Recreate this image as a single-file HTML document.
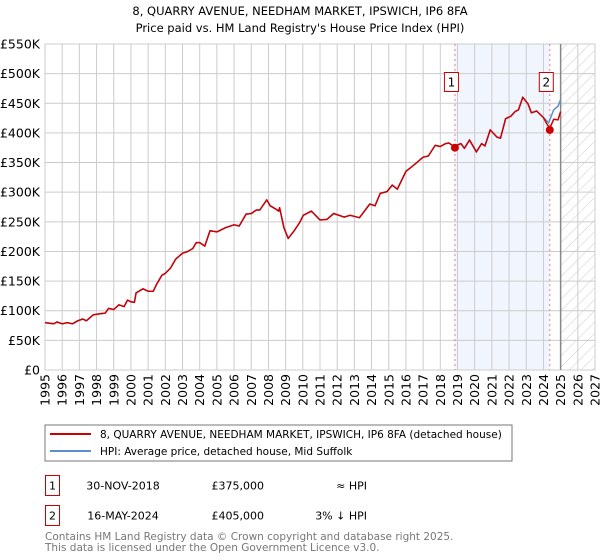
<!DOCTYPE html>
<html><head><meta charset="utf-8"><style>
body{margin:0;background:#fff;}
svg{display:block;font-family:"DejaVu Sans","Liberation Sans",sans-serif;}
</style></head><body>
<svg id="c" width="600" height="560" viewBox="0 0 600 560">
<text x="300" y="15" text-anchor="middle" font-size="11.5">8, QUARRY AVENUE, NEEDHAM MARKET, IPSWICH, IP6 8FA</text>
<text x="300" y="32" text-anchor="middle" font-size="11.5">Price paid vs. HM Land Registry's House Price Index (HPI)</text>
<g id="plot"></g>
<g>
<rect x="45" y="425" width="467" height="36" fill="#fff" stroke="#777"/>
<line x1="50" y1="434" x2="91" y2="434" stroke="#cc0000" stroke-width="2"/>
<text x="100" y="438" font-size="10.5">8, QUARRY AVENUE, NEEDHAM MARKET, IPSWICH, IP6 8FA (detached house)</text>
<line x1="50" y1="451" x2="91" y2="451" stroke="#5b8fd0" stroke-width="2"/>
<text x="100" y="455" font-size="10.5">HPI: Average price, detached house, Mid Suffolk</text>
</g>
<g font-size="11">
<rect x="45.5" y="475.5" width="14" height="20" fill="none" stroke="#cc0000"/>
<text x="52.5" y="489.5" text-anchor="middle">1</text>
<text x="123" y="489.5" text-anchor="middle">30-NOV-2018</text>
<text x="264" y="489.5" text-anchor="end">£375,000</text>
<text x="367" y="489.5" text-anchor="end">≈ HPI</text>
<rect x="45.5" y="505.5" width="14" height="20" fill="none" stroke="#cc0000"/>
<text x="52.5" y="519.5" text-anchor="middle">2</text>
<text x="123" y="519.5" text-anchor="middle">16-MAY-2024</text>
<text x="264" y="519.5" text-anchor="end">£405,000</text>
<text x="367" y="519.5" text-anchor="end">3% ↓ HPI</text>
</g>
<text x="45" y="540" font-size="10.5" fill="#777">Contains HM Land Registry data © Crown copyright and database right 2025.</text>
<text x="45" y="551" font-size="10.5" fill="#777">This data is licensed under the Open Government Licence v3.0.</text>
</svg>
<script>
const yTicks=[0,50,100,150,200,250,300,350,400,450,500,550];
const yTickLabels=["£0","£50K","£100K","£150K","£200K","£250K","£300K","£350K","£400K","£450K","£500K","£550K"];
const xYears=[1995,1996,1997,1998,1999,2000,2001,2002,2003,2004,2005,2006,2007,2008,2009,2010,2011,2012,2013,2014,2015,2016,2017,2018,2019,2020,2021,2022,2023,2024,2025,2026,2027];
const hpiDates=[1995,1995.5,1995.7,1996,1996.3,1996.6,1996.9,1997.2,1997.4,1997.8,1998.2,1998.5,1998.7,1999,1999.3,1999.6,1999.8,2000,2000.2,2000.3,2000.7,2001,2001.3,2001.5,2001.8,2002,2002.3,2002.6,2003,2003.3,2003.6,2003.8,2004,2004.3,2004.6,2005,2005.5,2006,2006.3,2006.7,2007,2007.3,2007.5,2007.9,2008.1,2008.4,2008.6,2008.65,2008.9,2009.15,2009.5,2009.8,2010.03,2010.5,2011,2011.4,2011.8,2012.4,2012.75,2013.3,2013.9,2014.2,2014.5,2014.9,2015.2,2015.5,2016,2016.3,2016.6,2017,2017.3,2017.7,2018,2018.3,2018.5,2018.8,2019.2,2019.4,2019.7,2020.1,2020.4,2020.6,2020.9,2021.3,2021.5,2021.8,2022.1,2022.35,2022.55,2022.8,2023.1,2023.3,2023.6,2024,2024.3,2024.6,2024.85,2025];
const hpiValues=[80,78,81,78,80,78,83,86,83,93,95,96,104,102,110,107,118,115,114,130,137,133,133,145,160,163,172,187,197,200,205,215,215,209,235,233,240,245,243,263,264,270,270,287,277,272,268,274,240,222,235,248,261,268,253,254,264,258,261,257,280,277,298,301,312,305,335,342,349,359,361,379,377,382,383,377,382,374,388,368,382,378,405,393,391,424,428,436,439,460,449,434,437,426,417,439,445,456];
const priceDates=[1995,1995.5,1995.7,1996,1996.3,1996.6,1996.9,1997.2,1997.4,1997.8,1998.2,1998.5,1998.7,1999,1999.3,1999.6,1999.8,2000,2000.2,2000.3,2000.7,2001,2001.3,2001.5,2001.8,2002,2002.3,2002.6,2003,2003.3,2003.6,2003.8,2004,2004.3,2004.6,2005,2005.5,2006,2006.3,2006.7,2007,2007.3,2007.5,2007.9,2008.1,2008.4,2008.6,2008.65,2008.9,2009.15,2009.5,2009.8,2010.03,2010.5,2011,2011.4,2011.8,2012.4,2012.75,2013.3,2013.9,2014.2,2014.5,2014.9,2015.2,2015.5,2016,2016.3,2016.6,2017,2017.3,2017.7,2018,2018.3,2018.5,2018.8,2019.2,2019.4,2019.7,2020.1,2020.4,2020.6,2020.9,2021.3,2021.5,2021.8,2022.1,2022.35,2022.55,2022.8,2023.1,2023.3,2023.6,2024,2024.2,2024.37,2024.6,2024.85,2025];
const priceValues=[80,78,81,78,80,78,83,86,83,93,95,96,104,102,110,107,118,115,114,130,137,133,133,145,160,163,172,187,197,200,205,215,215,209,235,233,240,245,243,263,264,270,270,287,277,272,268,274,240,222,235,248,261,268,253,254,264,258,261,257,280,277,298,301,312,305,335,342,349,359,361,379,377,382,383,377,382,374,388,368,382,378,405,393,391,424,428,436,439,460,449,434,437,426,415,408,423,422,436];
const saleDates=[2018.85,2024.37];
const saleValues=[375,405];
const saleLabels=["1","2"];

const X0=45,X1=595,Y0=370,Y1=44;
const xs=y=>X0+(y-1995)/(2027-1995)*(X1-X0);
const ys=v=>Y0-v/550*(Y0-Y1);
const NS="http://www.w3.org/2000/svg";
const g=document.getElementById('plot');
function mk(t,a){const e=document.createElementNS(NS,t);for(const k in a)e.setAttribute(k,a[k]);g.appendChild(e);return e;}
const defs=mk('defs',{});
defs.innerHTML='<pattern id="hatch" patternUnits="userSpaceOnUse" width="8" height="8" patternTransform="rotate(45)"><line x1="0" y1="0" x2="0" y2="8" stroke="#ccc" stroke-width="1"/></pattern>';
let e=mk('rect',{x:xs(saleDates[0]),y:Y1,width:xs(saleDates[1])-xs(saleDates[0]),height:Y0-Y1,fill:'#eef3fc',opacity:0.8});


e=mk('rect',{x:xs(2025),y:Y1,width:X1-xs(2025),height:Y0-Y1,fill:'url(#hatch)'});


yTicks.forEach((v,i)=>{
  let l=mk('line',{x1:X0,x2:X1,y1:ys(v),y2:ys(v),stroke:'#ccc','stroke-width':1});
  
  
  let t=mk('text',{x:40,y:ys(v)+4.5,'text-anchor':'end','font-size':12.5});
  t.textContent=yTickLabels[i];
  
  
});
xYears.forEach(yr=>{
  let l=mk('line',{x1:xs(yr),x2:xs(yr),y1:Y1,y2:Y0,stroke:'#ccc','stroke-width':1});
  
  
  let t=mk('text',{x:0,y:0,'text-anchor':'end','font-size':12.5,transform:`translate(${xs(yr)+4.5},374) rotate(-90)`});
  t.textContent=yr;
  
  
});
e=mk('rect',{x:X0,y:Y1,width:X1-X0,height:Y0-Y1,fill:'none',stroke:'#ccc'});


e=mk('line',{x1:xs(2025),x2:xs(2025),y1:Y1,y2:Y0,stroke:'#888','stroke-width':1.5});


saleDates.forEach((d,i)=>{
  let l=mk('line',{x1:xs(d),x2:xs(d),y1:Y1,y2:Y0,stroke:'#f08080','stroke-dasharray':'2,3'});
  
  
  let r=mk('rect',{x:xs(d)-10.5,y:72.5,width:14,height:19,fill:'#fff',stroke:'#cc0000'});
  
  
  let t=mk('text',{x:xs(d)-3.5,y:86.5,'text-anchor':'middle','font-size':12});
  t.textContent=saleLabels[i];
  
  
});
function path(dates,vals){return dates.map((d,i)=>(i?'L':'M')+xs(d).toFixed(1)+','+ys(vals[i]).toFixed(1)).join('');}
e=mk('path',{d:path(hpiDates,hpiValues),fill:'none',stroke:'#5b8fd0','stroke-width':1.5});


e=mk('path',{d:path(priceDates,priceValues),fill:'none',stroke:'#cc0000','stroke-width':1.5,'stroke-linejoin':'round'});


saleDates.forEach((d,i)=>{
  let c=mk('circle',{cx:xs(d),cy:ys(saleValues[i]),r:4,fill:'#cc0000'});
  
  
});
</script>
</body></html>
